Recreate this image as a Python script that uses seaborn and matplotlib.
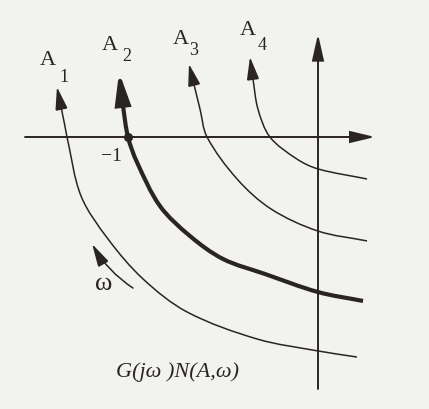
import numpy as np
import pandas as pd
import matplotlib
matplotlib.use("Agg")
import matplotlib.pyplot as plt
from matplotlib.path import Path
from matplotlib.patches import PathPatch
import seaborn as sns

# Describing-function loci in the complex plane (real part, imaginary part).
# Each family member is traced from low frequency (lower right) up to the arrow tip.
a1_re = [0.205, 0.0, -0.321, -0.689, -0.921, -1.105, -1.247, -1.321, -1.332, -1.374]
a1_im = [-1.158, -1.126, -1.063, -0.921, -0.747, -0.537, -0.311, 0.0, 0.058, 0.263]

a2_re = [0.237, 0.0, -0.279, -0.500, -0.674, -0.832, -0.953, -1.000, -1.026, -1.047]
a2_im = [-0.863, -0.816, -0.721, -0.642, -0.521, -0.363, -0.132, 0.0, 0.163, 0.342]

a3_re = [0.258, 0.0, -0.247, -0.426, -0.584, -0.621, -0.679]
a3_im = [-0.547, -0.495, -0.379, -0.221, 0.0, 0.147, 0.384]

a4_re = [0.258, 0.0, -0.111, -0.253, -0.316, -0.342, -0.358]
a4_im = [-0.221, -0.168, -0.116, 0.0, 0.147, 0.305, 0.421]

curve_names = ["1", "2", "3", "4"]
critical_re = [-1.0]
critical_im = [0.0]

# frequency-direction arrow (start, tip)
omega_re = [-0.974, -1.189]
omega_im = [-0.795, -0.563]

sns.set_theme(style="white")
plt.rcParams["font.family"] = ["Liberation Serif", "DejaVu Serif"]

INK = "#2a2524"
PAPER = "#f2f2f0"
PX_PER_UNIT = 190.0

fig = plt.figure(figsize=(4.29, 4.10), dpi=100)
fig.patch.set_facecolor(PAPER)
ax = fig.add_axes([0, 0, 1, 1])
ax.set_facecolor(PAPER)
ax.set_xlim(-318 / PX_PER_UNIT, 111 / PX_PER_UNIT)
ax.set_ylim(-272 / PX_PER_UNIT, 138 / PX_PER_UNIT)
ax.set_aspect("equal")
ax.axis("off")


def arrow(start, tip, lw, hl, hw, rad=0.0):
    ax.annotate("", xy=tip, xytext=start,
                arrowprops=dict(arrowstyle=f"-|>,head_length={hl},head_width={hw}",
                                mutation_scale=1, lw=lw, color=INK,
                                shrinkA=0, shrinkB=0, joinstyle="miter",
                                connectionstyle=f"arc3,rad={rad}"))


def bezier_segments(xs, ys):
    """Chord-length aware Catmull-Rom curve through the points, as cubic Bezier segments."""
    p = np.column_stack([xs, ys]).astype(float)
    d = np.linalg.norm(np.diff(p, axis=0), axis=1)
    n = len(p)
    tang = np.zeros_like(p)
    tang[0] = (p[1] - p[0]) / d[0]
    tang[-1] = (p[-1] - p[-2]) / d[-1]
    for i in range(1, n - 1):
        tang[i] = (p[i + 1] - p[i - 1]) / (d[i - 1] + d[i])
    segs = []
    for i in range(n - 1):
        segs.append([p[i], p[i] + tang[i] * d[i] / 3,
                     p[i + 1] - tang[i + 1] * d[i] / 3, p[i + 1]])
    return segs


def split_bezier(seg, t):
    a, b, c, e = [np.asarray(v) for v in seg]
    ab, bc, ce = a + (b - a) * t, b + (c - b) * t, c + (e - c) * t
    abc, bce = ab + (bc - ab) * t, bc + (ce - bc) * t
    m = abc + (bce - abc) * t
    return [a, ab, abc, m]


def curve_with_arrow(xs, ys, lw, hl, hw):
    segs = bezier_segments(xs, ys)
    tip = segs[-1][3]
    head = hl * 100 / 72 / PX_PER_UNIT * 0.8
    # cut the last segment where the arrow head starts
    ts = np.linspace(0, 1, 400)
    pts = [split_bezier(segs[-1], t)[3] for t in ts]
    dist = np.array([np.linalg.norm(q - tip) for q in pts])
    t_cut = ts[np.argmin(np.abs(dist - head))]
    segs[-1] = split_bezier(segs[-1], t_cut)
    verts = [segs[0][0]]
    codes = [Path.MOVETO]
    for s in segs:
        verts += [s[1], s[2], s[3]]
        codes += [Path.CURVE4] * 3
    ax.add_patch(PathPatch(Path(verts, codes), fill=False, edgecolor=INK,
                           lw=lw, capstyle="butt", joinstyle="round"))
    arrow(tuple(segs[-1][3]), tuple(tip), lw, hl, hw)


# coordinate axes
arrow((-1.542, 0.0), (0.300, 0.0), 1.4, 15, 3.6)
arrow((0.0, -1.326), (0.0, 0.542), 1.4, 16, 3.6)

curves = [(a1_re, a1_im, 1.1, 14, 3.8),
          (a2_re, a2_im, 3.0, 18, 4.3),
          (a3_re, a3_im, 1.1, 13.5, 3.8),
          (a4_re, a4_im, 1.1, 14, 3.8)]
for re, im, lw, hl, hw in curves:
    curve_with_arrow(re, im, lw, hl, hw)

sns.scatterplot(x=critical_re, y=critical_im, s=36, color=INK, edgecolor=INK,
                ax=ax, zorder=5, legend=False)

arrow((omega_re[0], omega_im[0]), (omega_re[1], omega_im[1]), 1.1, 14, 3.6, rad=-0.12)

# labels
a_pos = [(-1.424, 0.408), (-1.095, 0.487), (-0.721, 0.518), (-0.371, 0.566)]
sub_pos = [(-1.337, 0.318), (-1.005, 0.429), (-0.653, 0.461), (-0.292, 0.489)]
for name, (lx, ly), (sx, sy) in zip(curve_names, a_pos, sub_pos):
    ax.text(lx, ly, "A", fontsize=16, color=INK, ha="center", va="center")
    ax.text(sx, sy, name, fontsize=13, color=INK, ha="center", va="center")

ax.text(-1.089, -0.097, "\u22121", fontsize=14, color=INK, ha="center", va="center")
ax.text(-1.126, -0.766, "\u03c9", fontsize=19, color=INK, ha="center", va="center")
ax.text(-0.737, -1.232, "G(j\u03c9 )N(A,\u03c9)", fontsize=16, style="italic",
        color=INK, ha="center", va="center")

fig.savefig("out.png", dpi=100, facecolor=PAPER)
